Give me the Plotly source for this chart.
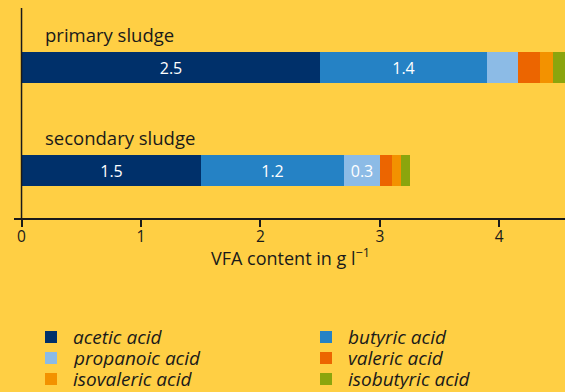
import plotly.graph_objects as go

# Sludge types (bottom to top on the y axis)
sludges = ["secondary sludge", "primary sludge"]

# VFA fractions in g/l, ordered [secondary, primary]
acids = ["acetic acid", "butyric acid", "propanoic acid",
         "valeric acid", "isovaleric acid", "isobutyric acid"]
acetic = [1.5, 2.5]
butyric = [1.2, 1.4]
propanoic = [0.3, 0.26]
valeric = [0.1, 0.18]
isovaleric = [0.08, 0.11]
isobutyric = [0.07, 0.1]

# Segments that carry a printed value (None = no label)
acetic_lbl = ["1.5", "2.5"]
butyric_lbl = ["1.2", "1.4"]
propanoic_lbl = ["0.3", None]

x_ticks = [0, 1, 2, 3, 4]
x_title = "VFA content in g l<sup>\u22121</sup>"

colors = ["#00306A", "#2582C5", "#8CBBE6", "#EC6500", "#F39200", "#8BA50D"]
series = [acetic, butyric, propanoic, valeric, isovaleric, isobutyric]
labels = [acetic_lbl, butyric_lbl, propanoic_lbl, None, None, None]

BG = "#FFCF44"
INK = "#1a1a1a"
FONT = "Open Sans"

W, H = 565, 392
PL, PR, PT, PB = 14, 565, 8, 218  # plot-area edges in pixels


def paper_x(px):
    return (px - PL) / (PR - PL)


def paper_y(py):
    return (PB - py) / (PB - PT)


fig = go.Figure()
for name, vals, col, lbl in zip(acids, series, colors, labels):
    bar = dict(
        y=[0, 1], x=vals, name=name, orientation="h",
        marker=dict(color=col, line=dict(width=0)),
        width=0.3, hoverinfo="skip",
    )
    if lbl:
        bar.update(
            text=[t or "" for t in lbl],
            textposition=["inside" if t else "none" for t in lbl],
            insidetextanchor="middle",
            textfont=dict(color="white", size=16, family=FONT),
        )
    else:
        bar.update(textposition="none")
    fig.add_trace(go.Bar(**bar))

# Category captions above each bar
for i, s in enumerate(sludges):
    fig.add_annotation(x=0, y=i, xref="x", yref="y", text=s, showarrow=False,
                       xanchor="left", yanchor="middle", xshift=21, yshift=33,
                       font=dict(size=18.5, color=INK, family=FONT))

# Axis caption under the tick labels
fig.add_annotation(x=paper_x(290), y=paper_y(257), xref="paper", yref="paper",
                   text=x_title, showarrow=False,
                   xanchor="center", yanchor="middle",
                   font=dict(size=18, color=INK, family=FONT))

# Two-column key below the chart
key_cols = [45, 320]
key_rows = [337, 358, 379]
for k, (name, col) in enumerate(zip(acids, colors)):
    cx = key_cols[k % 2]
    cy = key_rows[k // 2]
    fig.add_shape(type="rect", xref="paper", yref="paper",
                  x0=paper_x(cx), x1=paper_x(cx + 12),
                  y0=paper_y(cy + 6), y1=paper_y(cy - 6),
                  fillcolor=col, line=dict(width=0))
    fig.add_annotation(x=paper_x(cx + 26), y=paper_y(cy), xref="paper", yref="paper",
                       text=f"<i>{name}</i>", showarrow=False,
                       xanchor="left", yanchor="middle", height=20,
                       font=dict(size=19, color=INK, family=FONT))

fig.update_layout(
    barmode="stack",
    width=W, height=H,
    paper_bgcolor=BG, plot_bgcolor=BG,
    margin=dict(l=PL, r=W - PR, t=PT, b=H - PB, autoexpand=False),
    font=dict(family=FONT, color=INK),
    showlegend=False,
    bargap=0,
)
fig.update_xaxes(
    range=[-0.063, 4.55], tickvals=x_ticks,
    showgrid=False, zeroline=False,
    showline=True, linecolor=INK, linewidth=1.5,
    ticks="outside", ticklen=7, tickwidth=1.5, tickcolor=INK,
    tickfont=dict(size=15.5, family=FONT, color=INK),
    ticklabelstandoff=-3,
)
fig.update_yaxes(
    range=[-0.461, 1.578], showticklabels=False, showgrid=False,
    showline=False, zeroline=False, ticks="",
)
# Vertical axis at x = 0
fig.add_shape(type="line", xref="x", yref="paper", x0=0, x1=0, y0=0, y1=1,
              line=dict(color=INK, width=1.5), layer="above")

fig.write_html("out.html")
